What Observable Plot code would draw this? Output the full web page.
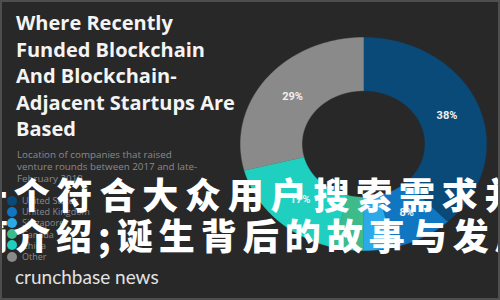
<!DOCTYPE html>
<html>
<head>
<meta charset="utf-8">
<script src="https://cdn.jsdelivr.net/npm/d3@7"></script>
<script src="https://cdn.jsdelivr.net/npm/@observablehq/plot@0.6"></script>
<style>
  html, body { margin: 0; padding: 0; background: #282828; }
  #card { position: relative; width: 500px; height: 300px; overflow: hidden; background: #282828; }
  #frame { position: absolute; left: 0; top: 0; width: 500px; height: 300px; box-sizing: border-box; border: 2px solid #4e4e4e; pointer-events: none; z-index: 5; }
  #chart { position: absolute; left: 0; top: 0; }
  #title { position: absolute; left: 16px; top: 10px; font-family: "Open Sans", sans-serif; font-weight: 700; font-size: 20px; line-height: 26.5px; color: #f4f4f4; white-space: nowrap; }
  #subtitle { position: absolute; left: 17px; top: 149px; font-family: "Open Sans", sans-serif; font-size: 9.8px; line-height: 12px; color: #8a8a8a; white-space: nowrap; }
  #legend { position: absolute; left: 7px; top: 195px; font-family: "Open Sans", sans-serif; font-size: 9px; color: #8a8a8a; }
  .item { height: 11.2px; line-height: 11.2px; display: flex; align-items: center; white-space: nowrap; }
  .sw { width: 10px; height: 10px; border-radius: 50%; margin-right: 5px; flex: none; }
  #brand { position: absolute; left: 15px; top: 265px; font-family: Lato, sans-serif; font-size: 19px; line-height: 24px; color: #e2e2e2; white-space: nowrap; }
  .over { position: absolute; font-family: "Noto Sans CJK SC", sans-serif; font-weight: 900; font-size: 36px; line-height: 36px; color: #ffffff; white-space: nowrap; z-index: 4; }
</style>
</head>
<body>
<div id="card">
  <div id="chart"></div>
  <div id="title"></div>
  <div id="subtitle"></div>
  <div id="legend"></div>
  <div id="brand"></div>
  <div id="over1" class="over"></div>
  <div id="over2" class="over"></div>
  <div id="frame"></div>
</div>
<script>
// ---- data ----
const countries = ["United States", "United Kingdom", "Singapore", "Canada", "China", "Other"];
const shares = [38, 8, 4, 4, 17, 29];
const colors = ["#0a4a78", "#1076c2", "#2ca9e9", "#3dbb8b", "#1fcfbf", "#8a8a8a"];
const showLabel = [true, true, false, false, true, true];
const titleLines = ["Where Recently", "Funded Blockchain", "And Blockchain-", "Adjacent Startups Are", "Based"];
const subtitleLines = ["Location of companies that raised", "venture rounds between 2017 and late-", "February 2018"];
const brandText = "crunchbase news";
const overlayRow1 = "一个符合大众用户搜索需求并";
const overlayRow2 = "简介绍;诞生背后的故事与发展";

// ---- text ----
document.getElementById("title").innerHTML = titleLines.join("<br>");
document.getElementById("subtitle").innerHTML = subtitleLines.join("<br>");
document.getElementById("brand").textContent = brandText;
const legend = document.getElementById("legend");
countries.forEach((c, i) => {
  const it = document.createElement("div");
  it.className = "item";
  const sw = document.createElement("span");
  sw.className = "sw";
  sw.style.background = colors[i];
  const lb = document.createElement("span");
  lb.textContent = c;
  it.appendChild(sw); it.appendChild(lb);
  legend.appendChild(it);
});
const o1 = document.getElementById("over1");
o1.textContent = overlayRow1;
Object.assign(o1.style, {left: "-29px", top: "175px", letterSpacing: "6.8px"});
const o2 = document.getElementById("over2");
o2.textContent = overlayRow2;
Object.assign(o2.style, {left: "-28px", top: "216px", letterSpacing: "6px"});

// ---- donut geometry (normalized units, mapped by Plot scales) ----
const total = d3.sum(shares);
const inner = 0.5;
const slices = [];
let acc = 0;
countries.forEach((c, i) => {
  const a0 = acc / total * 360;
  acc += shares[i];
  const a1 = acc / total * 360;
  slices.push({name: c, value: shares[i], a0, a1, label: showLabel[i] ? shares[i] + "%" : ""});
});
const pts = [];
const rad = d => d * Math.PI / 180;
for (const s of slices) {
  const n = Math.max(2, Math.ceil((s.a1 - s.a0) / 0.5));
  for (let k = 0; k <= n; k++) {
    const a = rad(s.a0 + (s.a1 - s.a0) * k / n);
    pts.push({name: s.name, x: Math.sin(a), y: Math.cos(a)});
  }
  for (let k = n; k >= 0; k--) {
    const a = rad(s.a0 + (s.a1 - s.a0) * k / n);
    pts.push({name: s.name, x: inner * Math.sin(a), y: inner * Math.cos(a)});
  }
}
const labelR = 0.73;
const labels = slices.filter(s => s.label).map(s => {
  const m = rad((s.a0 + s.a1) / 2);
  return {x: labelR * Math.sin(m), y: labelR * Math.cos(m), text: s.label};
});

const cx = 363, cy = 143.5, rx = 123, ry = 106.5;
const plot = Plot.plot({
  width: 500,
  height: 300,
  margin: 0,
  style: {background: "transparent"},
  x: {domain: [-cx / rx, (500 - cx) / rx], range: [0, 500], axis: null},
  y: {domain: [-(300 - cy) / ry, cy / ry], range: [300, 0], axis: null},
  color: {domain: countries, range: colors},
  marks: [
    Plot.line(pts, {x: "x", y: "y", z: "name", fill: "name", stroke: "name", strokeWidth: 0.5, curve: "linear"}),
    Plot.text(labels, {x: "x", y: "y", text: "text", fill: "#f0f0f0", fontSize: 11, fontWeight: 700, fontFamily: "Roboto, sans-serif"})
  ]
});
document.getElementById("chart").appendChild(plot);
</script>
</body>
</html>
